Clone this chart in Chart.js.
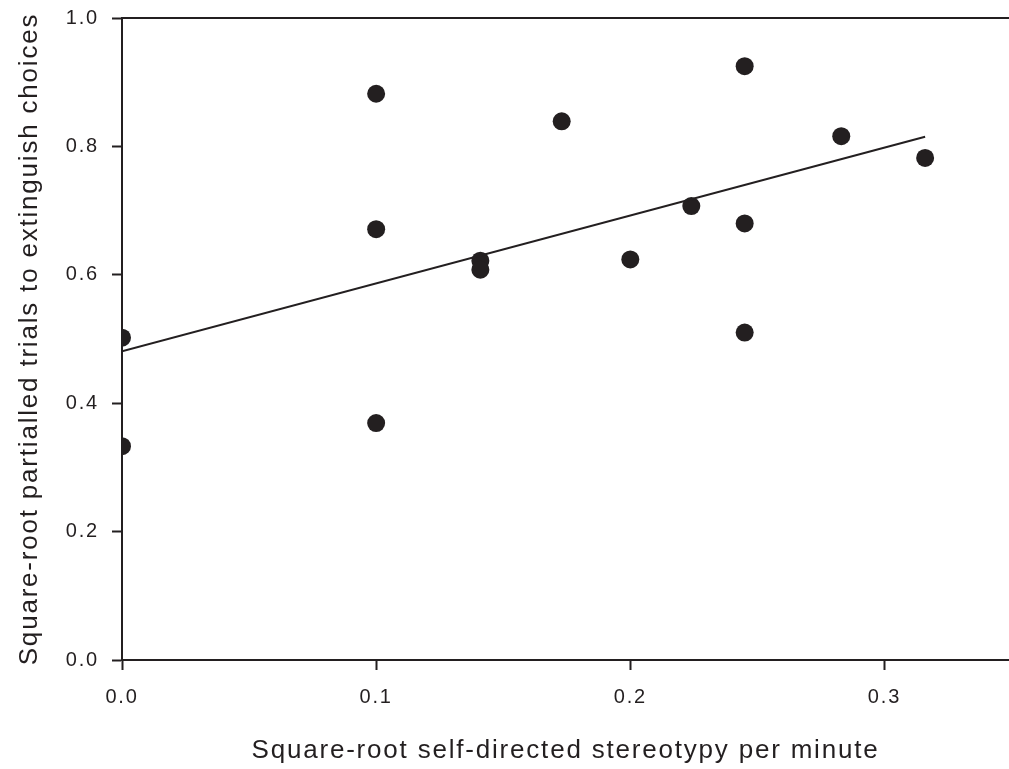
<!DOCTYPE html>
<html>
<head>
<meta charset="utf-8">
<script src="https://cdn.jsdelivr.net/npm/chart.js@4"></script>
<style>
  html, body { margin: 0; padding: 0; background: #fff; }
  canvas { display: block; }
</style>
</head>
<body>
<canvas id="chart" width="1009" height="769"></canvas>
<script>
// values
const stereotypyX = [0, 0, 0.1, 0.1, 0.1, 0.141, 0.141, 0.173, 0.2, 0.224, 0.245, 0.245, 0.245, 0.283, 0.316];
const trialsY = [0.502, 0.333, 0.882, 0.671, 0.369, 0.622, 0.608, 0.839, 0.624, 0.707, 0.925, 0.680, 0.510, 0.816, 0.782];
const fitX = [0, 0.316];
const fitY = [0.481, 0.815];

const xTitle = 'Square-root self-directed stereotypy per minute';
const yTitle = 'Square-root partialled trials to extinguish choices';

const ink = '#231f20';
const tickFont = { family: 'Liberation Sans, Arial, sans-serif', size: 20 };
const titleFont = { family: 'Liberation Sans, Arial, sans-serif', size: 26 };

const points = stereotypyX.map((x, i) => ({ x: x, y: trialsY[i] }));
const fitLine = fitX.map((x, i) => ({ x: x, y: fitY[i] }));

// the original text is set a little loose
const spacing = {
    id: 'spacing',
    beforeInit: (chart) => { chart.ctx.letterSpacing = '1.8px'; },
    beforeLayout: (chart) => { chart.ctx.letterSpacing = '1.8px'; },
    beforeDraw: (chart) => { chart.ctx.letterSpacing = '1.8px'; }
};

new Chart(document.getElementById('chart'), {
    type: 'scatter',
    plugins: [spacing],
    data: {
        datasets: [
            {
                data: fitLine,
                showLine: true,
                borderColor: ink,
                borderWidth: 2,
                pointRadius: 0,
                fill: false
            },
            {
                data: points,
                backgroundColor: ink,
                borderColor: ink,
                pointRadius: 9,
                pointBorderWidth: 0
            }
        ]
    },
    options: {
        responsive: false,
        animation: false,
        layout: { autoPadding: false, padding: { top: 18, right: 0, left: 0, bottom: 0 } },
        plugins: { legend: { display: false }, tooltip: { enabled: false } },
        scales: {
            x: {
                type: 'linear',
                min: 0,
                max: 0.349,
                afterFit: (s) => { s.height = 109; s.paddingLeft = 0; s.paddingRight = 0; },
                ticks: {
                    stepSize: 0.1,
                    includeBounds: false,
                    color: ink,
                    font: tickFont,
                    padding: 15,
                    maxRotation: 0,
                    callback: (v) => v.toFixed(1)
                },
                grid: { drawOnChartArea: false, drawTicks: true, tickLength: 10, tickWidth: 2, tickColor: ink },
                border: { display: true, color: ink, width: 2 },
                title: { display: true, text: xTitle, color: ink, font: titleFont, padding: { top: 0, bottom: 3 } }
            },
            x2: {
                type: 'linear',
                position: 'top',
                min: 0,
                max: 0.349,
                afterFit: (s) => { s.height = 0; s.paddingLeft = 0; s.paddingRight = 0; },
                ticks: { display: false },
                grid: { display: true, drawOnChartArea: false, drawTicks: false },
                border: { display: true, color: ink, width: 2 }
            },
            y: {
                type: 'linear',
                min: 0,
                max: 1,
                afterFit: (s) => { s.width = 122; s.paddingTop = 0; s.paddingBottom = 0; },
                ticks: {
                    stepSize: 0.2,
                    color: ink,
                    font: tickFont,
                    padding: 13,
                    callback: (v) => v.toFixed(1)
                },
                grid: { drawOnChartArea: false, drawTicks: true, tickLength: 10, tickWidth: 2, tickColor: ink },
                border: { display: true, color: ink, width: 2 },
                title: { display: true, text: yTitle, color: ink, font: titleFont, padding: { top: 14, bottom: 0 } }
            }
        }
    }
});
</script>
</body>
</html>
